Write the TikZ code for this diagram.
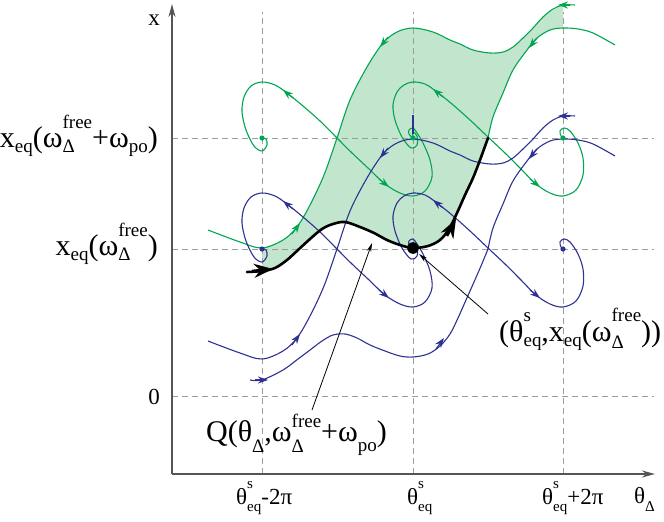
\documentclass[tikz,border=0pt]{standalone}
\usepackage{fontspec}
\setmainfont{Liberation Serif}
\usetikzlibrary{arrows.meta}
\definecolor{gr}{HTML}{00A651}
\definecolor{bl}{HTML}{2E3192}
\definecolor{qf}{HTML}{C2E5CE}
\definecolor{dg}{HTML}{9C9C9C}
\definecolor{ax}{HTML}{555555}
\newcommand\Lf{\fontsize{30}{32}\selectfont}
\newcommand\Ls{\fontsize{19}{20}\selectfont}
\newcommand\Tf{\fontsize{23}{25}\selectfont}
\newcommand\Ts{\fontsize{15}{16}\selectfont}
\newsavebox\stka \newsavebox\stkb \newlength\stkw
\newcommand\stk[5]{\sbox\stka{#1#4}\sbox\stkb{#1#5}\setlength\stkw{\wd\stka}\ifdim\wd\stkb>\stkw\setlength\stkw{\wd\stkb}\fi\rlap{\raisebox{#2}{\usebox\stka}}\raisebox{#3}{\usebox\stkb}\hspace{\dimexpr\stkw-\wd\stkb\relax}}
\newcommand\sbx[3]{\raisebox{#2}{#1#3}}
\tikzset{
  traj/.style={line width=1.1pt,line join=round},
  gtraj/.style={traj,draw=gr},
  btraj/.style={traj,draw=bl},
  tip/.style={-{Stealth[length=10pt,width=7pt]}},
  bigtip/.style={line width=2.6pt,-{Stealth[length=19pt,width=14pt]}},
  grid/.style={draw=dg,line width=0.9pt,dash pattern=on 6pt off 4pt},
  axisline/.style={draw=ax,line width=1.5pt,-{Stealth[length=13pt,width=7pt]}},
  ptr/.style={draw=black,line width=0.8pt,-{Stealth[length=9pt,width=4.5pt]}},
  lbl/.style={inner sep=0pt,font=\Lf},
  tlbl/.style={inner sep=0pt,font=\Tf},
}
\newcommand\family[1]{%
  \draw[#1] plot[smooth,tension=0.55] coordinates {(262,138) (266,139) (267,145) (262,151) (254,146) (246,130) (242,112) (244,97) (251,86) (262,82) (275,85) (287,93) (303,106) (320,121) (337,138) (352,153) (368,168) (385,184) (400,193) (413,196) (425,191) (432,177) (430,160) (423,143) (417,133) (413,128) (409,130) (409,134) (413,138)};
  \draw[#1] plot[smooth,tension=0.55] coordinates {(413,138) (413,132) (417,136) (417,145) (411,148) (402,137) (395,120) (393,105) (397,92) (404,85) (413,82) (425,84) (437,92) (452,104) (470,120) (489,138) (505,153) (520,168) (536,184) (550,193) (563,196) (576,190) (583,175) (583,158) (578,143) (570,131) (564,128) (560,131) (561,136) (563,138)};
  \draw[#1] plot[smooth,tension=0.55] coordinates {(575,5) (563,5) (553,9) (543,17) (533,28) (523,38) (513,47) (503,52) (490,53) (473,50) (460,44) (450,40) (433,32) (413,28) (397,32) (383,43) (367,67) (350,100) (337,138) (324,175) (310,205) (297,227) (283,240) (262,248) (240,242) (208,230)};
  \draw[#1] plot[smooth,tension=0.55] coordinates {(615,45) (593,33) (578,29) (563,28) (550,30) (537,38) (527,50) (513,70) (503,93) (493,117) (488,138)};
  \draw[#1,tip] (293,98) -- (283,90);
  \draw[#1,tip] (379,179) -- (389,187);
  \draw[#1,tip] (443,97) -- (433,89);
  \draw[#1,tip] (530,179) -- (540,187);
  \draw[#1,tip] (570,5) -- (558,5);
  \draw[#1,tip] (388,37) -- (380,47);
  \draw[#1,tip] (292,234) -- (300,223);
  \draw[#1,tip] (537,38) -- (529,48);
}
\begin{document}
\begin{tikzpicture}[x=1pt,y=-1pt]
\useasboundingbox (0,0) rectangle (664,522);
% region Q
\fill[qf] plot[smooth,tension=0.55] coordinates {(563,5) (553,9) (543,17) (533,28) (523,38) (513,47) (503,52) (490,53) (473,50) (460,44) (450,40) (433,32) (413,28) (397,32) (383,43) (367,67) (350,100) (337,138) (324,175) (310,205) (297,227) (283,240) (262,248)}
  -- (262,271) -- plot[smooth,tension=0.55] coordinates {(262,271) (275,268) (287,260) (298,250) (310,239) (322,229) (333,224) (345,222) (360,227) (374,233) (387,240) (400,245) (413,248) (428,246) (440,240) (449,229) (457,213) (465,195) (473,178) (480,160) (488,138)}
  -- plot[smooth,tension=0.55] coordinates {(488,138) (493,117) (503,93) (513,70) (527,50) (537,38) (550,30) (563,28)} -- cycle;
% grid
\foreach \gx in {262,413,563} \draw[grid] (\gx,474) -- (\gx,12);
\foreach \gy in {138,249,396} \draw[grid] (172,\gy) -- (654,\gy);
% axes
\coordinate (o) at (172,474);
\coordinate (ytop) at (172,4);
\coordinate (xend) at (655,474);
\draw[axisline] (o) -- (ytop);
\draw[axisline] (o) -- (xend);
% green family
\family{gtraj}
% blue family
\begin{scope}[shift={(0,111)}]
\family{btraj}
\end{scope}
% blue lower branch
\draw[btraj] plot[smooth,tension=0.55] coordinates {(250,380) (262,380) (283,370) (298,359) (310,350) (322,341) (333,335) (345,334) (357,338) (370,345) (385,351) (400,356) (413,357) (428,354) (440,346) (450,334) (458,318) (466,300) (474,282) (481,266) (488,249)};
\draw[btraj,tip] (255,380) -- (268,380);
\draw[btraj,tip] (436,349) -- (444,338);
\draw[btraj] (413,115) -- (413,134);
% black curve
\draw[line width=2.6pt,line cap=round,line join=round] plot[smooth,tension=0.55] coordinates {(247,272) (262,271) (275,268) (287,260) (298,250) (310,239) (322,229) (333,224) (345,222) (360,227) (374,233) (387,240) (400,245) (413,248) (428,246) (440,240) (449,229) (457,213) (465,195) (473,178) (480,160) (488,138)};
\draw[bigtip] (252,271) -- (273,269);
\draw[bigtip] (447,236) -- (456,219);
% equilibria
\foreach \ex in {262,413,563} \fill[gr] (\ex,138) circle (2.6pt);
\foreach \ex in {262,413,563} \fill[bl] (\ex,249) circle (2.6pt);
\fill[black] (413,248) coordinate (eqs) circle (5.8pt);
% labels
\node[tlbl,anchor=base] (xlab) at (154,25) {x};
\node[tlbl,anchor=base] (zlab) at (154,404) {0};
\node[lbl,anchor=base east] (la) at (158,147) {x\sbx\Ls{-5pt}{eq}(ω\stk\Ls{19pt}{-5pt}{free}{Δ}+ω\sbx\Ls{-5pt}{po})};
\node[lbl,anchor=base east] (lb) at (158,255) {x\sbx\Ls{-5pt}{eq}(ω\stk\Ls{19pt}{-5pt}{free}{Δ})};
\node[lbl,anchor=base west] (qlab) at (206,441) {Q(θ\sbx\Ls{-11pt}{Δ},ω\stk\Ls{14pt}{-11pt}{free}{Δ}+ω\sbx\Ls{-10pt}{po})};
\node[lbl,anchor=base west] (plab) at (499,341) {(θ\stk\Ls{20pt}{-5pt}{s}{eq},x\sbx\Ls{-5pt}{eq}(ω\stk\Ls{20pt}{-7pt}{free}{Δ}))};
\node[tlbl,anchor=base west] (t1) at (236,504) {θ\stk\Ts{16pt}{-7pt}{s}{eq}-2π};
\node[tlbl,anchor=base west] (t2) at (407,504) {θ\stk\Ts{16pt}{-7pt}{s}{eq}};
\node[tlbl,anchor=base west] (t3) at (542,504) {θ\stk\Ts{16pt}{-7pt}{s}{eq}+2π};
\node[tlbl,anchor=base west] (t4) at (634,503) {θ\sbx\Ts{-8pt}{Δ}};
% pointers
\coordinate (qtail) at (312,410);
\coordinate (qtip) at (372,243);
\coordinate (ptail) at (488,314);
\coordinate (ptip) at (419,254);
\draw[ptr] (qtail) -- (qtip);
\draw[ptr] (ptail) -- (ptip);
\end{tikzpicture}
\end{document}
